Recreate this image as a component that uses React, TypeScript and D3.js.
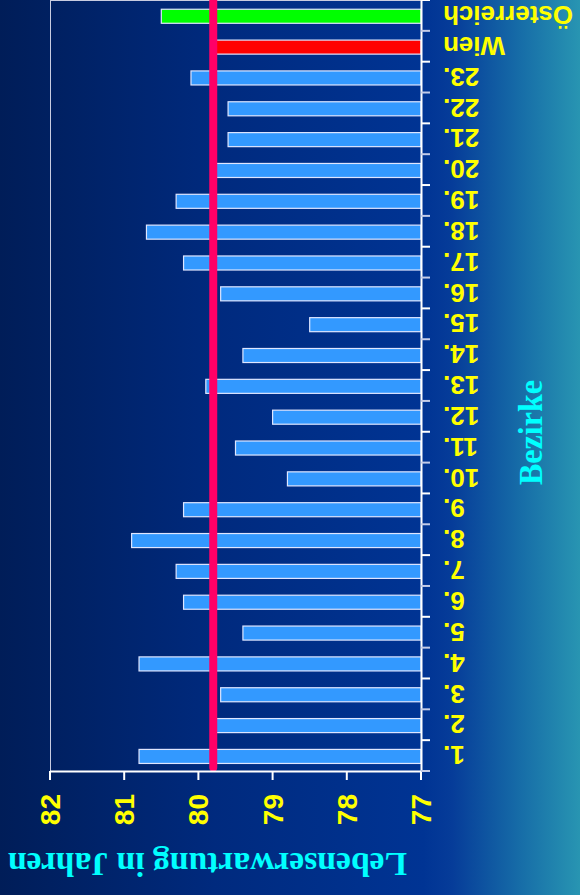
import React from 'react';
import * as d3 from 'd3';

const categories = ['1.', '2.', '3.', '4.', '5.', '6.', '7.', '8.', '9.', '10.', '11.', '12.', '13.', '14.', '15.', '16.', '17.', '18.', '19.', '20.', '21.', '22.', '23.', 'Wien', 'Österreich'];
const values = [80.8, 79.8, 79.7, 80.8, 79.4, 80.2, 80.3, 80.9, 80.2, 78.8, 79.5, 79.0, 79.9, 79.4, 78.5, 79.7, 80.2, 80.7, 80.3, 79.8, 79.6, 79.6, 80.1, 79.8, 80.5];
const barFills = ['#3399ff', '#3399ff', '#3399ff', '#3399ff', '#3399ff', '#3399ff', '#3399ff', '#3399ff', '#3399ff', '#3399ff', '#3399ff', '#3399ff', '#3399ff', '#3399ff', '#3399ff', '#3399ff', '#3399ff', '#3399ff', '#3399ff', '#3399ff', '#3399ff', '#3399ff', '#3399ff', '#ff0000', '#00ff00'];
const valueTicks = [82, 81, 80, 79, 78, 77];
const wienAverage = 79.8;
const valueAxisTitle = 'Lebenserwartung in Jahren';
const categoryAxisTitle = 'Bezirke';

const W = 580;
const H = 895;
const plotLeft = 50;
const plotRight = 421;
const plotTop = 0;
const plotBottom = 771;

export default function App() {
  React.useEffect(() => {
    document.body.style.margin = '0';
  }, []);

  const x = d3.scaleLinear().domain([82, 77]).range([plotLeft, plotRight]);
  const y = d3.scaleBand<string>().domain([...categories].reverse()).range([plotTop, plotBottom]).padding(0);
  const bw = y.bandwidth();
  const step = y.step();
  const boundaries = d3.range(categories.length + 1).map((i) => plotTop + i * step);

  const yellow = '#ffff00';
  const cyan = '#00ffff';
  const sans = '"Liberation Sans", Arial, sans-serif';
  const serif = '"Liberation Serif", "Times New Roman", serif';

  return (
    <svg width={W} height={H} style={{ position: 'absolute', left: 0, top: 0, display: 'block' }}>
      <defs>
        <linearGradient id="bg" x1="0" y1="0" x2="1" y2="0">
          <stop offset="0" stopColor="#001d58" />
          <stop offset="0.37" stopColor="#002a7e" />
          <stop offset="0.73" stopColor="#003494" />
          <stop offset="0.78" stopColor="#063c99" />
          <stop offset="0.9" stopColor="#176ea8" />
          <stop offset="1" stopColor="#2895b2" />
        </linearGradient>
      </defs>
      <rect x={0} y={0} width={W} height={H} fill="url(#bg)" />

      {/* plot frame */}
      <rect x={plotLeft + 0.5} y={plotTop + 0.5} width={plotRight - plotLeft} height={plotBottom - plotTop} fill="none" stroke="#c8cce0" strokeWidth={1} />

      {/* bars */}
      {categories.map((c, i) => (
        <rect
          key={c}
          x={x(values[i])}
          y={(y(c) as number) + bw * 0.3}
          width={x(77) - x(values[i])}
          height={bw * 0.455}
          fill={barFills[i]}
          stroke="#dfe6ff"
          strokeWidth={1.2}
        />
      ))}

      {/* Wien average line */}
      <line x1={x(wienAverage)} x2={x(wienAverage)} y1={-6} y2={plotBottom - 3.5} stroke="#ff0066" strokeWidth={8} strokeLinecap="round" />

      {/* value axis */}
      <line x1={plotLeft} x2={plotRight} y1={plotBottom + 0.5} y2={plotBottom + 0.5} stroke="#ffffff" strokeWidth={2} />
      {valueTicks.map((t) => (
        <g key={t}>
          <line x1={x(t)} x2={x(t)} y1={plotBottom} y2={plotBottom + 9} stroke="#ffffff" strokeWidth={2} />
          <text
            transform={`translate(${x(t)},${plotBottom + 23}) rotate(-90)`}
            textAnchor="end"
            dy="0.36em"
            fill={yellow}
            fontFamily={sans}
            fontWeight="bold"
            fontSize={28}
          >
            {t}
          </text>
        </g>
      ))}

      {/* category axis */}
      <line x1={plotRight + 0.5} x2={plotRight + 0.5} y1={plotTop} y2={plotBottom} stroke="#ffffff" strokeWidth={2} />
      {boundaries.map((b, i) => (
        <line key={i} x1={plotRight} x2={plotRight + 9} y1={b} y2={b} stroke={i % 2 === 0 ? '#ffffff' : '#c4cce8'} strokeWidth={2} />
      ))}
      {categories.map((c) => (
        <text
          key={c}
          transform={`translate(443,${(y(c) as number) + bw / 2}) rotate(180)`}
          textAnchor="end"
          dy="0.36em"
          fill={yellow}
          fontFamily={sans}
          fontWeight="bold"
          fontSize={26}
        >
          {c}
        </text>
      ))}

      {/* axis titles */}
      <text
        transform={`translate(207.5,853) rotate(180)`}
        textAnchor="middle"
        fill={cyan}
        fontFamily={serif}
        fontWeight="bold"
        fontSize={33}
        textLength={399}
        lengthAdjust="spacingAndGlyphs"
      >
        {valueAxisTitle}
      </text>
      <text
        transform={`translate(542,432.5) rotate(-90)`}
        textAnchor="middle"
        fill={cyan}
        fontFamily={serif}
        fontWeight="bold"
        fontSize={34}
        textLength={105}
        lengthAdjust="spacingAndGlyphs"
      >
        {categoryAxisTitle}
      </text>
    </svg>
  );
}
